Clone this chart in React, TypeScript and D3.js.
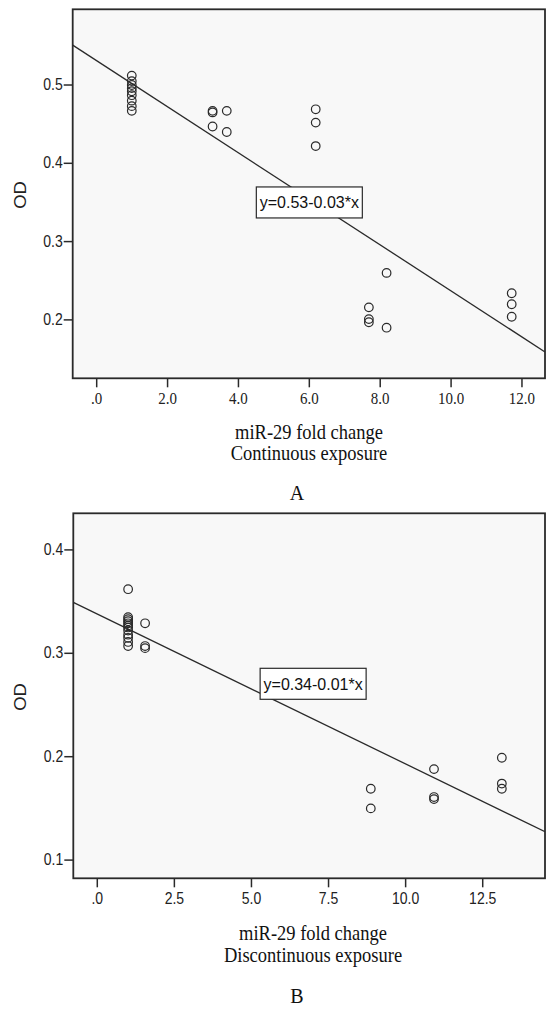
import React from "react";
import * as d3 from "d3";

// Panel A: continuous exposure
const foldA = [0.99, 0.99, 0.99, 0.99, 0.99, 0.99, 0.99, 0.99, 0.99, 3.27, 3.27, 3.27, 3.67, 3.67, 6.18, 6.18, 6.18, 7.68, 7.68, 7.68, 8.18, 8.18, 11.71, 11.71, 11.71];
const odA = [0.512, 0.505, 0.5, 0.496, 0.492, 0.487, 0.48, 0.473, 0.467, 0.467, 0.465, 0.447, 0.467, 0.44, 0.469, 0.452, 0.422, 0.216, 0.201, 0.197, 0.26, 0.19, 0.234, 0.22, 0.204];
const xTicksA = [0, 2, 4, 6, 8, 10, 12];
const yTicksA = [0.2, 0.3, 0.4, 0.5];
const fitA = { intercept: 0.531, slope: -0.0294, label: "y=0.53-0.03*x", lx: 6.0, ly: 0.35 };

// Panel B: discontinuous exposure
const foldB = [1.0, 1.0, 1.0, 1.0, 1.0, 1.0, 1.0, 1.0, 1.0, 1.0, 1.0, 1.0, 1.55, 1.55, 1.55, 8.87, 8.87, 10.92, 10.92, 10.92, 13.12, 13.12, 13.12];
const odB = [0.362, 0.335, 0.333, 0.331, 0.329, 0.327, 0.325, 0.322, 0.318, 0.315, 0.311, 0.307, 0.329, 0.307, 0.305, 0.169, 0.15, 0.188, 0.161, 0.159, 0.199, 0.174, 0.169];
const xTicksB = [0, 2.5, 5, 7.5, 10, 12.5];
const yTicksB = [0.1, 0.2, 0.3, 0.4];
const fitB = { intercept: 0.338, slope: -0.0145, label: "y=0.34-0.01*x", lx: 7.0, ly: 0.2705 };

const SANS = "Arial, 'Liberation Sans', sans-serif";
const SERIF = "'Times New Roman', 'Liberation Serif', serif";

type PanelProps = {
  xs: number[];
  ys: number[];
  xTicks: number[];
  yTicks: number[];
  fit: { intercept: number; slope: number; label: string; lx: number; ly: number };
  box: { left: number; right: number; top: number; bottom: number };
  xDom: [number, number];
  yDom: [number, number];
  xFmt: (v: number) => string;
  xTickFont: string;
  xTickSize: number;
  xTickBaseline: number;
  title1: string;
  title2: string;
  titleX: number;
  title1Y: number;
  title2Y: number;
  letter: string;
  letterX: number;
  letterY: number;
  odY: number;
  clipId: string;
};

function Panel(p: PanelProps) {
  const x = d3.scaleLinear().domain(p.xDom).range([p.box.left, p.box.right]);
  const y = d3.scaleLinear().domain(p.yDom).range([p.box.bottom, p.box.top]);
  const line = d3
    .line<number>()
    .x((d) => x(d))
    .y((d) => y(p.fit.intercept + p.fit.slope * d));
  const stroke = "#2a2a2a";
  const bw = 106;
  const bh = 31;
  const bx = x(p.fit.lx);
  const by = y(p.fit.ly);
  return (
    <g>
      <defs>
        <clipPath id={p.clipId}>
          <rect x={p.box.left} y={p.box.top} width={p.box.right - p.box.left} height={p.box.bottom - p.box.top} />
        </clipPath>
      </defs>
      <rect
        x={p.box.left}
        y={p.box.top}
        width={p.box.right - p.box.left}
        height={p.box.bottom - p.box.top}
        fill="#f8f8f8"
      />
      <path d={line(p.xDom) || ""} stroke={stroke} strokeWidth={1.3} fill="none" clipPath={`url(#${p.clipId})`} />
      {p.xs.map((xv, i) => (
        <circle key={i} cx={x(xv)} cy={y(p.ys[i])} r={4.3} fill="none" stroke={stroke} strokeWidth={1.2} />
      ))}
      <rect x={bx - bw / 2} y={by - bh / 2} width={bw} height={bh} fill="#ffffff" stroke={stroke} strokeWidth={1.2} />
      <text x={bx} y={by + 6} textAnchor="middle" fontFamily={SANS} fontSize={16} fill="#111">
        {p.fit.label}
      </text>
      <rect
        x={p.box.left}
        y={p.box.top}
        width={p.box.right - p.box.left}
        height={p.box.bottom - p.box.top}
        fill="none"
        stroke={stroke}
        strokeWidth={1.8}
      />
      {p.yTicks.map((t) => (
        <g key={"y" + t}>
          <line x1={p.box.left - 9} x2={p.box.left} y1={y(t)} y2={y(t)} stroke={stroke} strokeWidth={1.5} />
          <text
            transform={`translate(${p.box.left - 10},${y(t) + 5}) scale(1,1.15)`}
            textAnchor="end"
            fontFamily={SANS}
            fontSize={14}
            fill="#222"
          >
            {d3.format(".1f")(t)}
          </text>
        </g>
      ))}
      {p.xTicks.map((t) => (
        <g key={"x" + t}>
          <line x1={x(t)} x2={x(t)} y1={p.box.bottom} y2={p.box.bottom + 9} stroke={stroke} strokeWidth={1.5} />
          <text
            transform={`translate(${x(t)},${p.xTickBaseline}) scale(1,1.15)`}
            textAnchor="middle"
            fontFamily={p.xTickFont}
            fontSize={p.xTickSize}
            fill="#222"
          >
            {p.xFmt(t)}
          </text>
        </g>
      ))}
      <text
        transform={`translate(26,${p.odY}) rotate(-90) scale(1.15,1)`}
        textAnchor="middle"
        fontFamily={SANS}
        fontSize={16}
        fill="#222"
      >
        OD
      </text>
      <text transform={`translate(${p.titleX},${p.title1Y}) scale(1,1.1)`} textAnchor="middle" fontFamily={SERIF} fontSize={18.5} fill="#111">
        {p.title1}
      </text>
      <text transform={`translate(${p.titleX},${p.title2Y}) scale(1,1.1)`} textAnchor="middle" fontFamily={SERIF} fontSize={18.5} fill="#111">
        {p.title2}
      </text>
      <text x={p.letterX} y={p.letterY} textAnchor="middle" fontFamily={SERIF} fontSize={20} fill="#111">
        {p.letter}
      </text>
    </g>
  );
}

const fmtA = (v: number) => (v === 0 ? ".0" : d3.format(".1f")(v));
const fmtB = (v: number) => (v === 0 ? ".0" : d3.format(".1f")(v));

export default function App() {
  return (
    <svg
      width={547}
      height={1009}
      style={{ position: "absolute", left: 0, top: 0, background: "#ffffff" }}
    >
      <rect x={0} y={0} width={547} height={1009} fill="#ffffff" />
      <Panel
        xs={foldA}
        ys={odA}
        xTicks={xTicksA}
        yTicks={yTicksA}
        fit={fitA}
        box={{ left: 72.7, right: 545, top: 9.3, bottom: 378.3 }}
        xDom={[-0.677, 12.65]}
        yDom={[0.1254, 0.5967]}
        xFmt={fmtA}
        xTickFont={SERIF}
        xTickSize={15}
        xTickBaseline={404}
        title1="miR-29 fold change"
        title2="Continuous exposure"
        titleX={309}
        title1Y={439}
        title2Y={460}
        letter="A"
        letterX={297}
        letterY={500}
        odY={195}
        clipId="clipA"
      />
      <Panel
        xs={foldB}
        ys={odB}
        xTicks={xTicksB}
        yTicks={yTicksB}
        fit={fitB}
        box={{ left: 73.3, right: 545, top: 513.3, bottom: 878.3 }}
        xDom={[-0.778, 14.52]}
        yDom={[0.0824, 0.4354]}
        xFmt={fmtB}
        xTickFont={SANS}
        xTickSize={14}
        xTickBaseline={904}
        title1="miR-29 fold change"
        title2="Discontinuous exposure"
        titleX={313}
        title1Y={940}
        title2Y={962}
        letter="B"
        letterX={297}
        letterY={1003}
        odY={697}
        clipId="clipB"
      />
    </svg>
  );
}
